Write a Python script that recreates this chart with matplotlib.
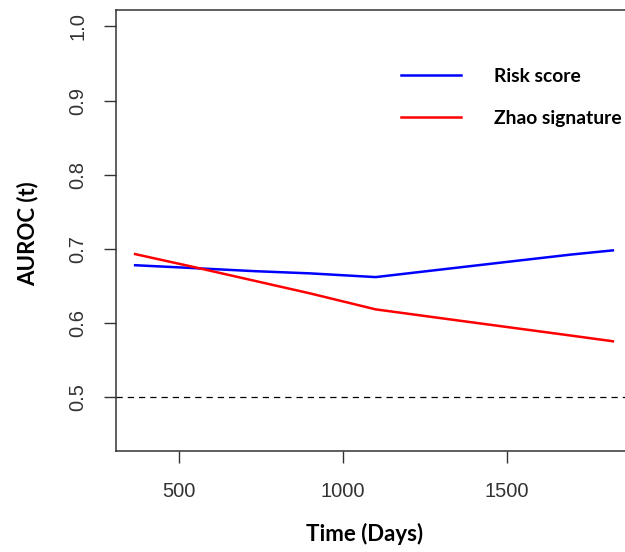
"""Time-dependent AUROC: risk score vs Zhao signature."""
import matplotlib

matplotlib.use("Agg")
import matplotlib.pyplot as plt  # noqa: E402

# time grid (days) and AUROC(t) values
days = [365, 550, 730, 900, 1100, 1300, 1500, 1700, 1825]
risk_score = [0.678, 0.674, 0.670, 0.667, 0.662, 0.6722, 0.6824, 0.6925, 0.698]
zhao_signature = [0.693, 0.675, 0.657, 0.640, 0.6185, 0.6066, 0.5948, 0.583, 0.5755]

x_ticks = [500, 1000, 1500]
y_ticks = [0.5, 0.6, 0.7, 0.8, 0.9, 1.0]
reference_auc = 0.5

LABEL_FONT = ["Lato", "DejaVu Sans"]
TICK_FONT = ["Liberation Sans", "DejaVu Sans"]
AXIS_GREY = "#333333"


def main() -> None:
    fig = plt.figure(figsize=(6.25, 5.52), dpi=100)
    # right edge deliberately runs past the figure, as in the cropped original
    ax = fig.add_axes([0.1856, 0.1835, 0.8256, 0.7984])

    ax.plot(days, risk_score, color="#0000ff", lw=1.8, label="Risk score")
    ax.plot(days, zhao_signature, color="#ff0000", lw=1.8, label="Zhao signature")
    ax.axhline(reference_auc, color="black", lw=0.9, ls=(0, (5, 4)))

    # R-style 4% padding around the data range
    xmin, xmax = min(days), max(days)
    xpad = (xmax - xmin) * 0.04
    ax.set_xlim(xmin - xpad, xmax + xpad)
    ypad = (1.0 - 0.45) * 0.04
    ax.set_ylim(0.45 - ypad, 1.0 + ypad)

    ax.set_xticks(x_ticks)
    ax.set_xticklabels([str(t) for t in x_ticks], family=TICK_FONT, fontsize=14.5,
                       color=AXIS_GREY)
    ax.set_yticks(y_ticks)
    ax.set_yticklabels([f"{t:.1f}" for t in y_ticks], family=TICK_FONT, fontsize=14.5,
                       color=AXIS_GREY, rotation=90, va="center")
    ax.tick_params(axis="x", length=8.5, width=1.0, color=AXIS_GREY, pad=14)
    ax.tick_params(axis="y", length=8.5, width=1.0, color=AXIS_GREY, pad=12)
    for side in ("top", "left", "bottom", "right"):
        ax.spines[side].set_linewidth(1.1)
        ax.spines[side].set_color(AXIS_GREY)

    fig.text(365 / 625, 1 - 534 / 552, "Time (Days)", family=LABEL_FONT,
             fontweight="bold", fontsize=16, ha="center", va="center")
    fig.text(28 / 625, 1 - 234 / 552, "AUROC (t)", family=LABEL_FONT,
             fontweight="bold", fontsize=16, ha="center", va="center",
             rotation=90)

    ax.legend(loc="upper left", bbox_to_anchor=(401 / 625, 1 - 68 / 552),
              bbox_transform=fig.transFigure, frameon=False, borderpad=0,
              borderaxespad=0, handlelength=3.1, handletextpad=1.7,
              labelspacing=1.28, prop={"family": LABEL_FONT, "weight": "bold",
                                       "size": 13.9})

    fig.savefig("out.png", dpi=100)
    plt.close(fig)


if __name__ == "__main__":
    main()
